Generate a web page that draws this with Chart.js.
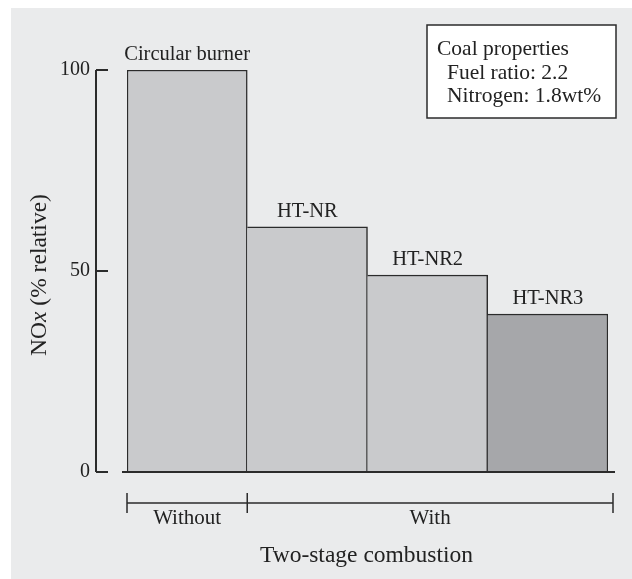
<!DOCTYPE html>
<html>
<head>
<meta charset="utf-8">
<script src="https://cdn.jsdelivr.net/npm/chart.js@4.4.1/dist/chart.umd.min.js"></script>
<style>
  body { margin: 0; background: #fff; }
  canvas { display: block; }
</style>
</head>
<body>
<canvas id="myChart" width="632" height="579"></canvas>
<script>
// chart data
var burners = ['Circular burner', 'HT-NR', 'HT-NR2', 'HT-NR3'];
var noxRelative = [100, 61, 49, 39.3];
var barColors = ['#c9cacc', '#c9cacc', '#c9cacc', '#a6a7aa'];
var yTicks = [0, 50, 100];
var stageLabels = ['Without', 'With'];
var stageFirstBar = [0, 1];
var stageLastBar = [0, 3];
var coalNotes = ['Coal properties', '  Fuel ratio: 2.2', '  Nitrogen: 1.8wt%'];

var FONT = '"Liberation Serif", "Times New Roman", serif';
var INK = '#222';
var LINE = '#2b2b2b';

function font(size, italic) {
    return (italic ? 'italic ' : '') + size + 'px ' + FONT;
}

var decorPlugin = {
    id: 'decor',
    beforeDraw: function(chart) {
        var c = chart.ctx;
        c.save();
        c.fillStyle = '#fff';
        c.fillRect(0, 0, chart.width, chart.height);
        c.fillStyle = '#eaebec';
        c.fillRect(11, 8, chart.width - 11, chart.height - 8);
        c.restore();
    },
    afterDatasetsDraw: function(chart) {
        var c = chart.ctx;
        var y = chart.scales.y;
        var bars = chart.getDatasetMeta(0).data;
        var y0 = y.getPixelForValue(0);
        var yTop = y.getPixelForValue(100);
        var half = bars[0].width / 2;
        c.save();
        c.strokeStyle = LINE;
        c.lineWidth = 2;

        // y axis line with ticks
        var axX = 96;
        c.beginPath();
        c.moveTo(axX, yTop);
        c.lineTo(axX, y0);
        yTicks.forEach(function(t) {
            var py = y.getPixelForValue(t);
            c.moveTo(axX, py);
            c.lineTo(axX + 12, py);
        });
        c.stroke();

        // baseline
        var left = bars[0].x - half;
        var right = bars[bars.length - 1].x + half;
        c.beginPath();
        c.moveTo(left - 5, y0);
        c.lineTo(right + 7, y0);
        c.stroke();

        // labels above bars
        c.fillStyle = INK;
        c.font = font(20.5);
        c.textAlign = 'center';
        c.textBaseline = 'alphabetic';
        bars.forEach(function(b, i) {
            c.fillText(burners[i], b.x, b.y - 10);
        });

        // two-stage bracket
        var by = y0 + 31;
        c.lineWidth = 1.5;
        c.font = font(21);
        c.beginPath();
        stageLabels.forEach(function(lab, i) {
            var a = bars[stageFirstBar[i]].x - half;
            var b2 = bars[stageLastBar[i]].x + half;
            if (i === stageLabels.length - 1) b2 += 5;
            c.moveTo(a, by);
            c.lineTo(b2, by);
            c.moveTo(a, by - 10);
            c.lineTo(a, by + 10);
            c.moveTo(b2, by - 10);
            c.lineTo(b2, by + 10);
            c.fillText(lab, (a + b2) / 2, by + 21);
        });
        c.stroke();

        c.font = font(23.5);
        c.fillText('Two-stage combustion', (left + right) / 2 - 1, y0 + 90);

        // y axis title with italic x
        c.translate(40, (yTop + y0) / 2 + 4);
        c.rotate(-Math.PI / 2);
        c.textAlign = 'left';
        var parts = [['NO', false], ['x', true], [' (% relative)', false]];
        var total = 0;
        parts.forEach(function(p) { c.font = font(23.5, p[1]); total += c.measureText(p[0]).width; });
        var px = -total / 2;
        c.textBaseline = 'middle';
        parts.forEach(function(p) {
            c.font = font(23.5, p[1]);
            c.fillText(p[0], px, 0);
            px += c.measureText(p[0]).width;
        });
        c.restore();

        // coal properties box
        c.save();
        c.fillStyle = '#fff';
        c.fillRect(427, 25, 189, 93);
        c.strokeStyle = LINE;
        c.lineWidth = 1.5;
        c.strokeRect(427, 25, 189, 93);
        c.fillStyle = INK;
        c.font = font(21.5);
        c.textAlign = 'left';
        c.textBaseline = 'alphabetic';
        coalNotes.forEach(function(t, i) {
            c.fillText(t.replace(/^\s+/, ''), 437 + (t.charAt(0) === ' ' ? 10 : 0), 55 + i * 23.5);
        });
        c.restore();
    }
};

var borderSides = burners.map(function(b, i) {
    return { top: 1.5, right: 1.5, bottom: 0, left: i === 0 ? 1.5 : 0 };
});

var chartdata = {
    labels: burners,
    datasets: [{
        data: noxRelative,
        backgroundColor: barColors,
        borderColor: LINE,
        borderWidth: borderSides,
        borderSkipped: false,
        barPercentage: 1,
        categoryPercentage: 1
    }]
};

var options = {
    responsive: false,
    animation: false,
    devicePixelRatio: 1,
    layout: { padding: { left: 0, right: 24, top: 70, bottom: 107 } },
    plugins: { legend: { display: false }, tooltip: { enabled: false } },
    scales: {
        x: { display: false },
        y: {
            min: 0,
            max: 100,
            afterBuildTicks: function(s) {
                s.ticks = yTicks.map(function(v) { return { value: v }; });
            },
            afterFit: function(s) { s.width = 127; },
            grid: { display: false, drawTicks: false },
            border: { display: false },
            ticks: {
                padding: 37,
                color: INK,
                font: { family: FONT, size: 20 }
            }
        }
    }
};

var graph = new Chart(document.getElementById('myChart'), {
    type: 'bar',
    data: chartdata,
    options: options,
    plugins: [decorPlugin]
});
</script>
</body>
</html>
